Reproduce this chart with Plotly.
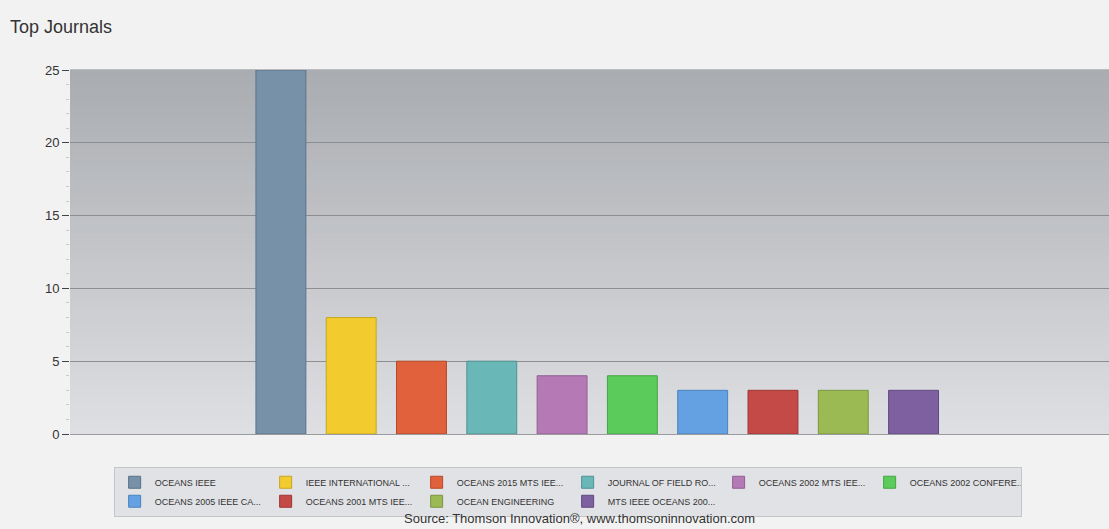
import plotly.graph_objects as go

journals = ["OCEANS IEEE", "IEEE INTERNATIONAL ...", "OCEANS 2015 MTS IEE...",
            "JOURNAL OF FIELD RO...", "OCEANS 2002 MTS IEE...", "OCEANS 2002 CONFERE...",
            "OCEANS 2005 IEEE CA...", "OCEANS 2001 MTS IEE...", "OCEAN ENGINEERING",
            "MTS IEEE OCEANS 200..."]
counts = [25, 8, 5, 5, 4, 4, 3, 3, 3, 3]
colors = ["#7791a8", "#f2cb2e", "#e0613b", "#69b7b7", "#b57ab5",
          "#5bcc5b", "#64a1e2", "#c44a48", "#9bba53", "#7e5fa0"]
borders = ["#5a7287", "#c9a520", "#b54a2a", "#4f9393", "#925e92",
           "#44a544", "#4b82bd", "#9c3533", "#7b9640", "#624880"]

fig = go.Figure()
for name, v, c, b in zip(journals, counts, colors, borders):
    fig.add_trace(go.Bar(x=[name], y=[v], name=name, width=0.71,
                         marker=dict(color=c, line=dict(color=b, width=1))))

# vertical gradient background
N = 60
top = (169, 172, 176)
bot = (222, 223, 227)
shapes = []
for i in range(N):
    t = i / (N - 1)
    col = tuple(round(bot[k] + (top[k] - bot[k]) * t) for k in range(3))
    shapes.append(dict(type="rect", xref="paper", yref="paper", x0=0, x1=1,
                       y0=i / N, y1=(i + 1) / N + 0.002, layer="below",
                       fillcolor="rgb(%d,%d,%d)" % col, line=dict(width=0)))

fig.update_layout(
    width=1109, height=529,
    paper_bgcolor="#f2f2f2", plot_bgcolor="#dcdde0",
    margin=dict(l=70, r=0, t=70, b=95),
    barmode="overlay",
    shapes=shapes,
    title=dict(text="Top Journals", x=0.009, xanchor="left", y=0.95, yanchor="middle",
               font=dict(family="Liberation Sans, Arial", size=18, color="#333")),
    font=dict(family="Liberation Sans, Arial", color="#333"),
    showlegend=True,
    legend=dict(orientation="h", x=0.042, xanchor="left", y=-0.09, yanchor="top",
                bgcolor="#e1e2e5", bordercolor="#c4c5c8", borderwidth=1,
                font=dict(size=9, color="#333"), entrywidth=106, entrywidthmode="pixels",
                itemwidth=30, traceorder="normal", tracegroupgap=0),
    annotations=[dict(text="Source: Thomson Innovation®, www.thomsoninnovation.com",
                      xref="paper", yref="paper", x=0.49, y=-0.258, xanchor="center",
                      yanchor="bottom", showarrow=False,
                      font=dict(size=13, color="#333"))],
)
fig.update_xaxes(range=[-3.0, 11.78], showticklabels=False, showgrid=False,
                 showline=True, linecolor="#9a9b9e", linewidth=1, ticks="", zeroline=False)
fig.update_yaxes(range=[0, 25], dtick=5, showgrid=True, gridcolor="#8c8e92", gridwidth=1,
                 ticks="outside", ticklen=7, tickcolor="#444", tickfont=dict(size=13, color="#333"),
                 zeroline=False, showline=False,
                 minor=dict(dtick=1, ticks="outside", ticklen=3, tickcolor="#c8c8c8", showgrid=False))

fig.write_html("out.html", config={"displayModeBar": False})
with open("out.html", encoding="utf-8") as f:
    html = f.read()
html = html.replace("<body>", '<body style="margin:0;background:#f2f2f2">', 1)
with open("out.html", "w", encoding="utf-8") as f:
    f.write(html)
